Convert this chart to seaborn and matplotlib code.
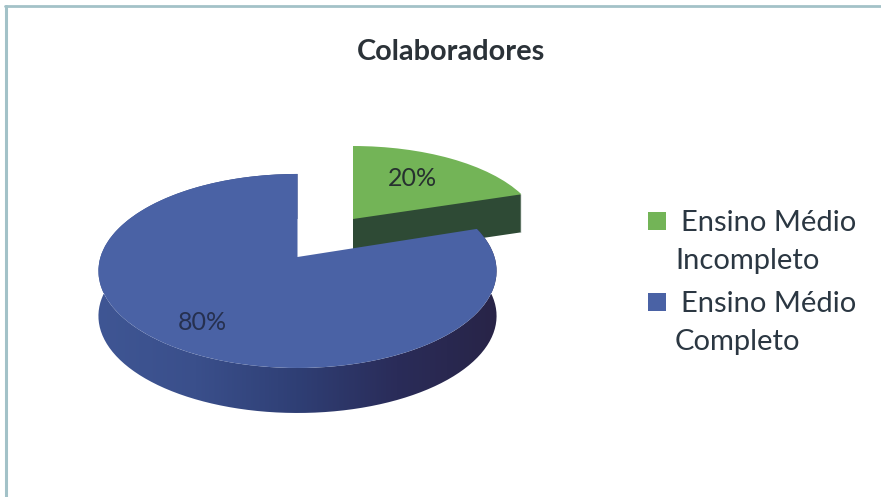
import numpy as np
import matplotlib
matplotlib.use("Agg")
import matplotlib.pyplot as plt
import seaborn as sns
from matplotlib.patches import Rectangle, PathPatch
from matplotlib.path import Path
from matplotlib.transforms import Transform

categories = ["Ensino Médio\nIncompleto", "Ensino Médio\nCompleto"]
shares = [20, 80]
value_labels = ["20%", "80%"]
face_colors = ["#73b457", "#4a62a5"]

sns.set_theme(style="white")
plt.rcParams["font.family"] = ["Lato", "DejaVu Sans"]

W, H = 881, 497
fig = plt.figure(figsize=(W / 100, H / 100), dpi=100, facecolor="white")
ax = fig.add_axes([0, 0, 1, 1])


class TiltedDisc(Transform):
    """Projects the unit pie onto a receding disc, in pixel-like data units."""
    input_dims = output_dims = 2
    is_separable = False

    def __init__(self, cx, cy, rx, ry, tilt=0.144):
        super().__init__()
        self.cx, self.cy, self.rx, self.ry, self.tilt = cx, cy, rx, ry, tilt

    def transform_non_affine(self, xy):
        xy = np.asarray(xy, dtype=float)
        d = 1 + self.tilt * xy[:, 1]
        return np.column_stack([self.cx + self.rx * xy[:, 0] / d,
                                self.cy - self.ry * xy[:, 1] / d])


def draw_slice(index, disc, color):
    """One slice of the pie through ax.pie, the other share left unpainted."""
    cols = [color if i == index else "none" for i in range(len(shares))]
    wedges, _ = ax.pie(shares, colors=cols, startangle=90, counterclock=False,
                       wedgeprops={"linewidth": 0})
    for w in wedges:
        w.set_transform(disc + ax.transData)
    return wedges


green_disc = (353, 219, 185, 83.5)
blue_disc = (297.5, 257, 197, 95.0)
green_depth = 38
blue_depth = 45

# dark inner wall of the pulled-out slice, swept downward
for dy in np.arange(green_depth, 0, -1.0):
    cx, cy, rx, ry = green_disc
    draw_slice(0, TiltedDisc(cx, cy + dy, rx, ry), "#2e4a35")
draw_slice(0, TiltedDisc(*green_disc), face_colors[0])

# outer wall of the large slice, shaded from left to right
split = 90 - 360 * shares[0] / sum(shares)
angles = np.radians(np.linspace(split, split - 360 * shares[1] / sum(shares), 240))
rim = np.column_stack([np.cos(angles), np.sin(angles)])
disc = TiltedDisc(*blue_disc)
upper = disc.transform_non_affine(rim)
lower = upper + [0, blue_depth]
band = np.vstack([upper, lower[::-1], upper[:1]])
gradient = np.linspace(0, 1, 256).reshape(1, -1)
shade = matplotlib.colors.LinearSegmentedColormap.from_list(
    "rim", ["#3f5694", "#3a4f8b", "#2f3f75", "#2a2c59", "#282447"])
img = ax.imshow(gradient, cmap=shade, extent=(95, 498, 420, 170), aspect="auto", zorder=1)
clip = PathPatch(Path(band), transform=ax.transData, facecolor="none", edgecolor="none")
ax.add_patch(clip)
img.set_clip_path(clip)

for w in draw_slice(1, disc, face_colors[1]):
    w.set_zorder(2)

ax.set_aspect("auto")
ax.set_xlim(0, W)
ax.set_ylim(H, 0)
ax.set_xticks([])
ax.set_yticks([])
ax.set_frame_on(False)

# frame of the chart area
ax.plot([6, 6], [H, 6], color="#a3c2c8", lw=2.2, zorder=3)
ax.plot([5, W], [6, 6], color="#a3c2c8", lw=2.0, zorder=3)

ax.text(451, 52, "Colaboradores", ha="center", va="center", fontsize=20.8,
        fontweight="bold", color="#2b3238", zorder=4)
ax.text(412, 178, value_labels[0], ha="center", va="center", fontsize=18,
        color="#26302f", zorder=4)
ax.text(202, 322, value_labels[1], ha="center", va="center", fontsize=18,
        color="#26304f", zorder=4)

# legend entries: square key, indented first line
key_tops = [212, 293]
for name, col, top in zip(categories, face_colors, key_tops):
    ax.add_patch(Rectangle((648, top), 18, 18, facecolor=col, edgecolor="none", zorder=4))
    first, second = name.split("\n")
    ax.text(681, top + 11, first, ha="left", va="center", fontsize=21,
            color="#2b3742", zorder=4)
    ax.text(675, top + 49, second, ha="left", va="center", fontsize=21,
            color="#2b3742", zorder=4)

fig.savefig("out.png", dpi=100, facecolor="white")
